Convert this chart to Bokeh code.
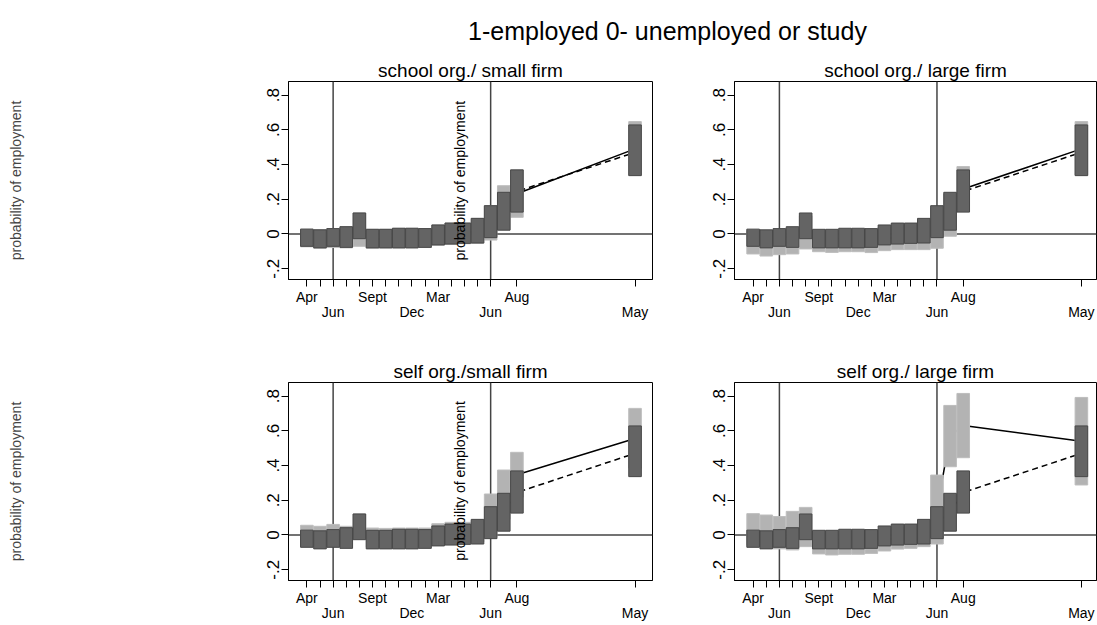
from math import pi
from bokeh.plotting import figure
from bokeh.layouts import column, row
from bokeh.models import Range1d, FixedTicker, Span, Label
from bokeh.embed import file_html
from bokeh.resources import INLINE

FONT = "Liberation Sans"

# ---------------- data ----------------
month_pos = [0, 1, 2, 3, 4, 5, 6, 7, 8, 9, 10, 11, 12, 13, 14, 15, 16, 25]
x_tick_pos = [0, 1, 2, 3, 4, 5, 6, 7, 8, 9, 10, 11, 12, 13, 14, 16, 25]
x_tick_upper = {0: "Apr", 5: "Sept", 10: "Mar", 16: "Aug"}
x_tick_lower = {2: "Jun", 8: "Dec", 14: "Jun", 25: "May"}
y_ticks = [-0.2, 0, 0.2, 0.4, 0.6, 0.8]
y_tick_text = ["-.2", "0", ".2", ".4", ".6", ".8"]
ref_months = [2, 14]

# reference group (dark boxes, dashed line)
base_lo = [-0.071, -0.080, -0.071, -0.077, -0.027, -0.080, -0.080, -0.080, -0.080,
           -0.077, -0.063, -0.058, -0.054, -0.052, -0.021, 0.022, 0.126, 0.336]
base_hi = [0.028, 0.024, 0.031, 0.042, 0.121, 0.027, 0.027, 0.033, 0.033,
           0.031, 0.052, 0.063, 0.063, 0.090, 0.163, 0.240, 0.369, 0.628]
base_pt = [-0.022, -0.028, -0.020, -0.018, 0.047, -0.027, -0.027, -0.024, -0.024,
           -0.023, -0.006, 0.003, 0.005, 0.019, 0.071, 0.131, 0.245, 0.470]

titles = ["school org./ small firm", "school org./ large firm",
          "self org./small firm", "self org./ large firm"]

grp_lo = [
    [-0.074, -0.082, -0.078, -0.080, -0.071, -0.082, -0.081, -0.081, -0.080,
     -0.078, -0.065, -0.060, -0.056, -0.054, -0.035, 0.025, 0.096, 0.340],
    [-0.115, -0.127, -0.119, -0.115, -0.086, -0.102, -0.106, -0.102, -0.102,
     -0.107, -0.096, -0.090, -0.090, -0.090, -0.082, -0.013, 0.130, 0.340],
    [-0.060, -0.068, -0.060, -0.066, -0.020, -0.070, -0.070, -0.068, -0.068,
     -0.066, -0.052, -0.046, -0.044, -0.040, -0.010, 0.090, 0.218, 0.385],
    [-0.060, -0.070, -0.080, -0.086, -0.067, -0.109, -0.115, -0.111, -0.111,
     -0.106, -0.092, -0.081, -0.077, -0.067, -0.052, 0.393, 0.445, 0.288],
]
grp_hi = [
    [0.028, 0.024, 0.031, 0.042, 0.121, 0.027, 0.027, 0.033, 0.033,
     0.031, 0.052, 0.063, 0.063, 0.090, 0.163, 0.278, 0.370, 0.647],
    [0.020, 0.016, 0.022, 0.032, 0.105, 0.018, 0.018, 0.022, 0.022,
     0.020, 0.040, 0.050, 0.052, 0.078, 0.150, 0.230, 0.388, 0.647],
    [0.056, 0.050, 0.061, 0.050, 0.121, 0.040, 0.038, 0.040, 0.040,
     0.040, 0.065, 0.073, 0.073, 0.085, 0.236, 0.374, 0.476, 0.729],
    [0.123, 0.115, 0.106, 0.136, 0.159, 0.020, 0.020, 0.022, 0.022,
     0.024, 0.034, 0.044, 0.050, 0.060, 0.345, 0.746, 0.815, 0.792],
]
grp_pt = [
    [-0.023, -0.029, -0.023, -0.019, 0.025, -0.027, -0.027, -0.024, -0.023,
     -0.023, -0.006, 0.001, 0.003, 0.018, 0.064, 0.151, 0.232, 0.490],
    [-0.048, -0.056, -0.049, -0.042, 0.010, -0.042, -0.044, -0.040, -0.040,
     -0.044, -0.028, -0.020, -0.019, -0.006, 0.034, 0.109, 0.259, 0.490],
    [-0.002, -0.009, 0.000, -0.008, 0.050, -0.015, -0.016, -0.014, -0.014,
     -0.013, 0.006, 0.013, 0.014, 0.022, 0.113, 0.232, 0.347, 0.556],
    [0.032, 0.023, 0.013, 0.025, 0.046, -0.045, -0.048, -0.045, -0.045,
     -0.041, -0.029, -0.019, -0.014, -0.004, 0.147, 0.570, 0.630, 0.540],
]

main_title = "1-employed 0- unemployed or study"
ylab = "probability of employment"

DARK_FILL, DARK_LINE = "#646464", "#484848"
LIGHT_FILL, LIGHT_LINE = "#b3b3b3", "#bdbdbd"


def x_labels():
    out = {}
    for t in x_tick_pos:
        if t in x_tick_upper:
            out[t] = x_tick_upper[t]
        elif t in x_tick_lower:
            out[t] = "\n" + x_tick_lower[t]
        else:
            out[t] = ""
    return out


def make_panel(i, width, height, mbl, mbr, mbt, mbb, xr, left_label, inner_label):
    p = figure(width=width, height=height, x_range=Range1d(*xr),
               y_range=Range1d(-0.262, 0.878), toolbar_location=None,
               output_backend="svg", min_border_left=mbl, min_border_right=mbr,
               min_border_top=mbt, min_border_bottom=mbb, title=titles[i])
    p.title.align = "center"
    p.title.text_font = FONT
    p.title.text_font_size = "19px"
    p.title.text_font_style = "normal"
    p.title.text_color = "black"
    p.title.standoff = 2
    p.xgrid.visible = False
    p.ygrid.visible = False
    p.outline_line_color = "black"
    p.outline_line_width = 1
    p.background_fill_color = "white"

    for m in ref_months:
        p.add_layout(Span(location=m, dimension="height", line_color="#444444",
                          line_width=1.5, level="underlay"))
    p.add_layout(Span(location=0, dimension="width", line_color="#444444",
                      line_width=1.5, level="underlay"))

    p.line(month_pos, grp_pt[i], line_color="black", line_width=1.5)
    p.line(month_pos, base_pt, line_color="black", line_width=1.5, line_dash="6 4")

    p.vbar(x=month_pos, width=0.96, bottom=grp_lo[i], top=grp_hi[i],
           fill_color=LIGHT_FILL, line_color=LIGHT_LINE, line_width=1)
    p.vbar(x=month_pos, width=0.96, bottom=base_lo, top=base_hi,
           fill_color=DARK_FILL, line_color=DARK_LINE, line_width=1)

    p.xaxis.ticker = FixedTicker(ticks=x_tick_pos)
    p.xaxis.major_label_overrides = x_labels()
    p.xaxis.major_label_text_font_size = "14px"
    p.xaxis.major_label_text_line_height = 0.95
    p.xaxis.major_label_standoff = 2

    p.yaxis.ticker = FixedTicker(ticks=y_ticks)
    p.yaxis.major_label_overrides = dict(zip(y_ticks, y_tick_text))
    p.yaxis.major_label_orientation = "vertical"
    p.yaxis.major_label_text_font_size = "17px"
    p.yaxis.major_label_standoff = 2

    for ax in p.axis:
        ax.major_label_text_font = FONT
        ax.major_label_text_color = "black"
        ax.axis_line_color = "black"
        ax.major_tick_line_color = "black"
        ax.major_tick_out = 7
        ax.major_tick_in = 0
        ax.minor_tick_line_color = None

    if left_label:
        p.yaxis.axis_label = ylab
        p.yaxis.axis_label_text_font = FONT
        p.yaxis.axis_label_text_font_size = "14px"
        p.yaxis.axis_label_text_font_style = "normal"
        p.yaxis.axis_label_standoff = 241
    if inner_label is not None:
        p.add_layout(Label(x=inner_label[0], y=inner_label[1], text=ylab, angle=pi / 2,
                           text_align="center", text_baseline="middle",
                           text_font=FONT, text_font_size="14px", text_color="black"))
    return p


XR_L = (-1.4, 26.33)
XR_R = (-1.42, 26.15)

f1 = make_panel(0, 693, 300, 288, 41, 33, 69, XR_L, True, (11.65, 0.307))
f2 = make_panel(1, 404, 300, 41, 1, 33, 69, XR_R, False, None)
f3 = make_panel(2, 693, 277, 288, 41, 34, 45, XR_L, True, (11.65, 0.311))
f4 = make_panel(3, 404, 277, 41, 1, 34, 45, XR_R, False, None)

p0 = figure(width=1097, height=48, x_range=Range1d(0, 1097), y_range=Range1d(0, 48),
            toolbar_location=None, output_backend="svg", min_border=0,
            x_axis_location=None, y_axis_location=None, title_location=None)
p0.grid.visible = False
p0.outline_line_color = None
p0.add_layout(Label(x=667, y=18, text=main_title, text_align="center",
                    text_baseline="alphabetic", text_font=FONT,
                    text_font_size="25px", text_color="black"))

layout = column(p0, row(f1, f2), row(f3, f4))

open("out.html", "w").write(file_html(layout, INLINE))
